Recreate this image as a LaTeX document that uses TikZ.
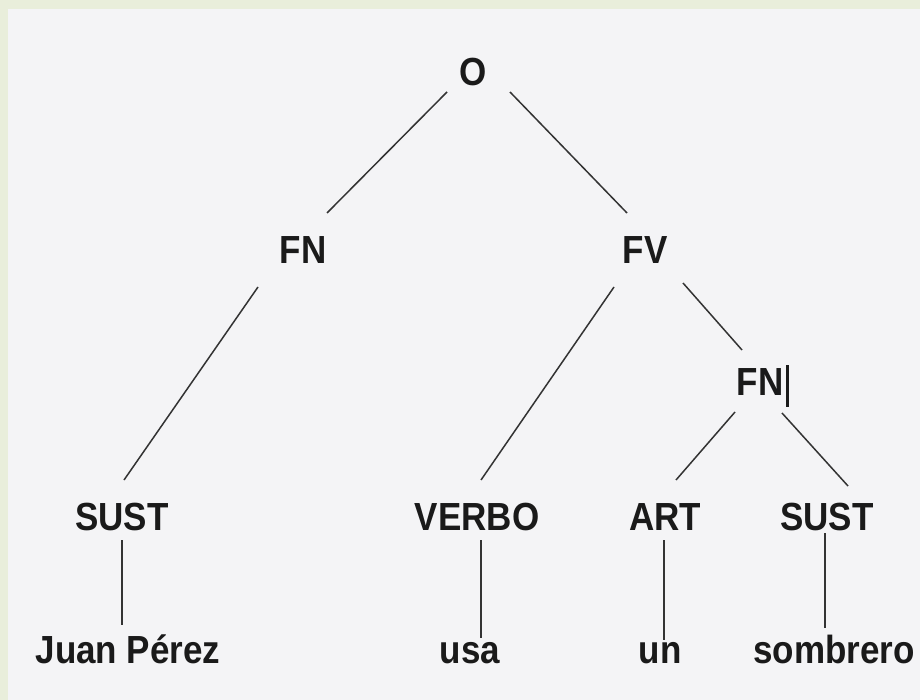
\documentclass[tikz,border=0pt]{standalone}
\usepackage{fontspec}
\usepackage{graphicx}
\setmainfont{Liberation Sans}
\usetikzlibrary{calc}
\definecolor{framec}{HTML}{E9EEDB}
\definecolor{paper}{HTML}{F4F4F6}
\definecolor{ink}{HTML}{1A1A1A}
\definecolor{edgec}{HTML}{333333}
\begin{document}
\begin{tikzpicture}[x=1pt,y=-1pt,
  lbl/.style={anchor=base,inner sep=0pt,text=ink,font=\fontsize{35}{40}\selectfont\bfseries},
  edge/.style={draw=edgec,line width=1.5pt}]
\fill[framec] (0,0) rectangle (920,700);
\fill[paper] (8,9) rectangle (920,700);
\useasboundingbox (0,0) rectangle (920,700);
\newcommand{\tx}[1]{\scalebox{1}[1.12]{#1}}
\node[lbl] (O) at (473,86) {\tx{O}};
\node[lbl] (FNa) at (303,264) {\tx{FN}};
\node[lbl] (FV) at (645,264) {\tx{FV}};
\node[lbl] (FNb) at (760,395) {\tx{FN}};
\node[lbl] (SUSTa) at (122,530) {\tx{SUST}};
\node[lbl] (VERBO) at (477,530) {\tx{VERBO}};
\node[lbl] (ART) at (665,530) {\tx{ART}};
\node[lbl] (SUSTb) at (827,530) {\tx{SUST}};
\node[lbl] (Juan) at (128,663) {\tx{Juan Pérez}};
\node[lbl] (usa) at (470,663) {\tx{usa}};
\node[lbl] (un) at (660,663) {\tx{un}};
\node[lbl] (sombrero) at (834,663) {\tx{sombrero}};
% cursor bar after FN
\coordinate (bartop) at ($(FNb.base)+(27,-30)$);
\coordinate (barbot) at ($(FNb.base)+(27,12)$);
\draw[ink,line width=3pt] (bartop) -- (barbot);
% edges
\draw[edge] ($(O.base)+(-26,6)$) -- ($(FNa.base)+(24,-51)$);
\draw[edge] ($(O.base)+(37,6)$) -- ($(FV.base)+(-18,-51)$);
\draw[edge] ($(FNa.base)+(-45,23)$) -- ($(SUSTa.base)+(2,-50)$);
\draw[edge] ($(FV.base)+(-31,23)$) -- ($(VERBO.base)+(4,-50)$);
\draw[edge] ($(FV.base)+(38,19)$) -- ($(FNb.base)+(-18,-45)$);
\draw[edge] ($(FNb.base)+(-25,17)$) -- ($(ART.base)+(11,-50)$);
\draw[edge] ($(FNb.base)+(22,18)$) -- ($(SUSTb.base)+(21,-44)$);
\draw[edge] ($(SUSTa.base)+(0,10)$) -- ($(Juan.base)+(-6,-38)$);
\draw[edge] ($(VERBO.base)+(4,10)$) -- ($(usa.base)+(11,-25)$);
\draw[edge] ($(ART.base)+(-1,10)$) -- ($(un.base)+(4,-23)$);
\draw[edge] ($(SUSTb.base)+(-2,3)$) -- ($(sombrero.base)+(-9,-35)$);
\end{tikzpicture}
\end{document}
